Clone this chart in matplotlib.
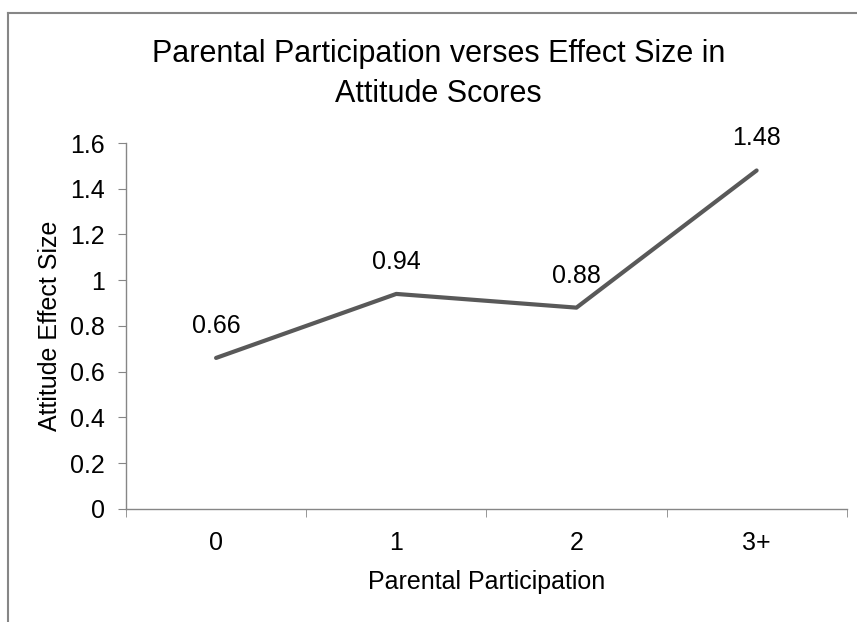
import matplotlib.pyplot as plt
from matplotlib.lines import Line2D

plt.rcParams['font.family'] = ['Liberation Sans', 'DejaVu Sans']

categories = ['0', '1', '2', '3+']
effect = [0.66, 0.94, 0.88, 1.48]
yticks = [0, 0.2, 0.4, 0.6, 0.8, 1, 1.2, 1.4, 1.6]
ytick_labels = ['0', '0.2', '0.4', '0.6', '0.8', '1', '1.2', '1.4', '1.6']

fig = plt.figure(figsize=(8.57, 6.22), dpi=100)
ax = fig.add_axes([0.147, 0.182, 0.841, 0.588])

x = list(range(len(categories)))
ax.plot(x, effect, color='#595959', lw=3, solid_capstyle='round')
for xi, v in zip(x, effect):
    ax.annotate(f'{v:.2f}', (xi, v), xytext=(0, 18), textcoords='offset points',
                ha='center', va='baseline', fontsize=18)

ax.set_xlim(-0.5, len(categories) - 0.5)
ax.set_ylim(0, 1.6)
ax.set_xticks(x)
ax.set_xticklabels(categories, fontsize=18)
ax.set_xticks([i - 0.5 for i in range(len(categories) + 1)], minor=True)
ax.tick_params(axis='x', which='major', length=0, pad=16)
ax.tick_params(axis='x', which='minor', length=6, color='#868686', direction='out')
ax.set_yticks(yticks)
ax.set_yticklabels(ytick_labels, fontsize=18)
ax.tick_params(axis='y', length=6, color='#868686', pad=9)

for s in ['top', 'right']:
    ax.spines[s].set_visible(False)
for s in ['left', 'bottom']:
    ax.spines[s].set_color('#868686')
    ax.spines[s].set_linewidth(1)

ax.set_xlabel('Parental Participation', fontsize=18, labelpad=11)
ax.set_ylabel('Attitude Effect Size', fontsize=18, labelpad=6)
fig.text(0.512, 0.881, 'Parental Participation verses Effect Size in\nAttitude Scores',
         ha='center', va='center', fontsize=22, linespacing=1.45)

# outer chart frame (only top and left edges visible)
fig.add_artist(Line2D([0.0093, 1.0], [0.979, 0.979], transform=fig.transFigure,
                      color='#868686', lw=1.5))
fig.add_artist(Line2D([0.0093, 0.0093], [0.0, 0.979], transform=fig.transFigure,
                      color='#868686', lw=1.5))

fig.savefig('out.png', dpi=100)
